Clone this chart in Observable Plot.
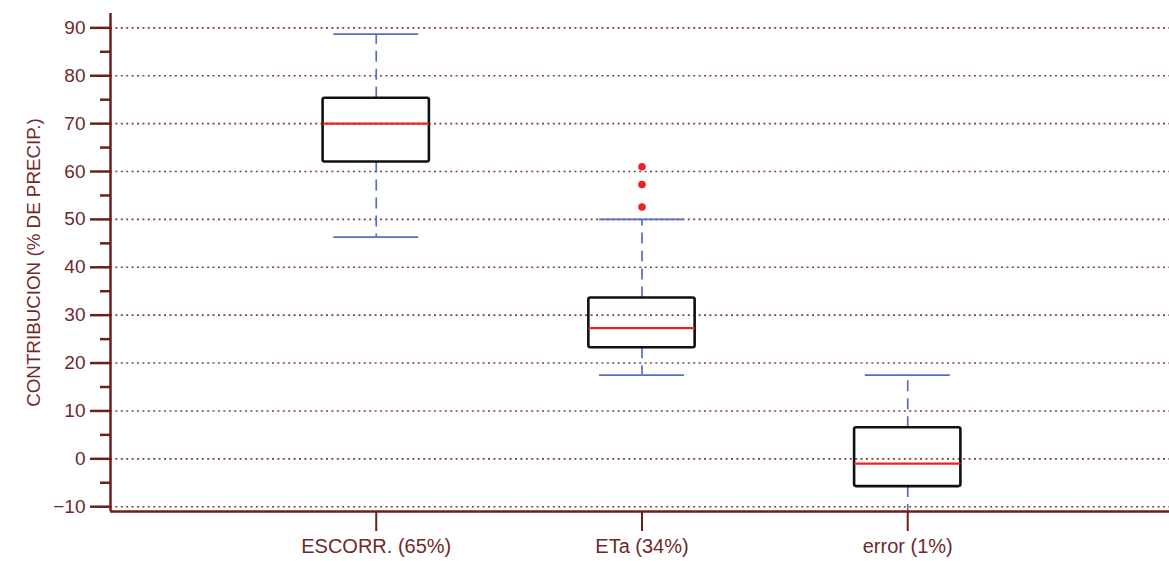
<!DOCTYPE html>
<html>
<head>
<meta charset="utf-8">
<script src="https://cdn.jsdelivr.net/npm/d3@7"></script>
<script src="https://cdn.jsdelivr.net/npm/@observablehq/plot@0.6"></script>
<style>
  html, body { margin: 0; padding: 0; background: #fff; }
  #chart svg { display: block; }
</style>
</head>
<body>
<div id="chart"></div>
<script>
const categories = ["ESCORR. (65%)", "ETa (34%)", "error (1%)"];
const positions = [1, 2, 3];
const whiskerLow = [46.3, 17.5, -14];
const q1 = [62.0, 23.2, -5.8];
const median = [70.0, 27.3, -1.0];
const q3 = [75.3, 33.6, 6.5];
const whiskerHigh = [88.7, 50.0, 17.5];
const outlierCategory = [2, 2, 2];
const outlierValue = [61.0, 57.3, 52.6];
const majorTicks = [-10, 0, 10, 20, 30, 40, 50, 60, 70, 80, 90];
const minorTicks = [-5, 5, 15, 25, 35, 45, 55, 65, 75, 85];
const yLabel = "CONTRIBUCION (% DE PRECIP.)";

const boxes = positions.map((p, i) => ({
  x: p, name: categories[i], lo: whiskerLow[i], q1: q1[i], med: median[i], q3: q3[i], hi: whiskerHigh[i]
}));
const outliers = outlierValue.map((v, i) => ({x: outlierCategory[i], v}));

const brown = "#6b1f1f";
const textBrown = "#6e2a2a";
const blue = "#5a6cc0";
const bw = 0.2, cw = 0.16;

const chart = Plot.plot({
  width: 1169,
  height: 561,
  marginLeft: 110,
  marginRight: 0,
  marginTop: 13,
  marginBottom: 50,
  style: {fontFamily: "'Liberation Sans', Arial, sans-serif", fontSize: "19px", background: "#fff", color: textBrown},
  x: {domain: [0, 3.985], axis: null},
  y: {domain: [-11, 93], axis: null},
  marks: [
    Plot.ruleY(majorTicks, {stroke: brown, strokeWidth: 1.6, strokeDasharray: "2,3.4", strokeOpacity: 0.85}),
    // whiskers
    Plot.ruleX(boxes, {x: "x", y1: "q3", y2: "hi", stroke: blue, strokeWidth: 1.7, strokeDasharray: "11,7"}),
    Plot.ruleX(boxes, {x: "x", y1: "q1", y2: "lo", stroke: blue, strokeWidth: 1.7, strokeDasharray: "11,7", clip: true}),
    Plot.ruleY(boxes, {y: "hi", x1: d => d.x - cw, x2: d => d.x + cw, stroke: blue, strokeWidth: 1.7, clip: true}),
    Plot.ruleY(boxes, {y: "lo", x1: d => d.x - cw, x2: d => d.x + cw, stroke: blue, strokeWidth: 1.7, clip: true}),
    // boxes
    Plot.rect(boxes, {x1: d => d.x - bw, x2: d => d.x + bw, y1: "q1", y2: "q3", fill: "none", stroke: "#111", strokeWidth: 2.6, rx: 2}),
    Plot.ruleY(boxes, {y: "med", x1: d => d.x - bw, x2: d => d.x + bw, stroke: "#ee2222", strokeWidth: 2.4}),
    Plot.dot(outliers, {x: "x", y: "v", r: 3.8, fill: "#ee2222", stroke: "none"}),
    // axes
    Plot.axisY({ticks: majorTicks, tickSize: 20, tickPadding: 5, fontSize: 19, stroke: brown, strokeWidth: 2.5, color: textBrown, label: null, tickFormat: d => d < 0 ? "\u2212" + Math.abs(d) : String(d)}),
    Plot.axisY({ticks: minorTicks, tickSize: 10, stroke: brown, strokeWidth: 2.5, tickFormat: null, text: null, label: null}),
    Plot.axisX({ticks: positions, tickSize: 20, tickPadding: 7, fontSize: 20, stroke: brown, strokeWidth: 2, color: textBrown, label: null, tickFormat: d => categories[d - 1]}),
    Plot.ruleX([0], {stroke: brown, strokeWidth: 2.5}),
    Plot.ruleY([-11], {stroke: brown, strokeWidth: 2.5}),
    Plot.text([yLabel], {frameAnchor: "left", textAnchor: "middle", rotate: -90, dx: -77, fontSize: 18.8, fill: textBrown})
  ]
});
document.getElementById("chart").appendChild(chart);
</script>
</body>
</html>
